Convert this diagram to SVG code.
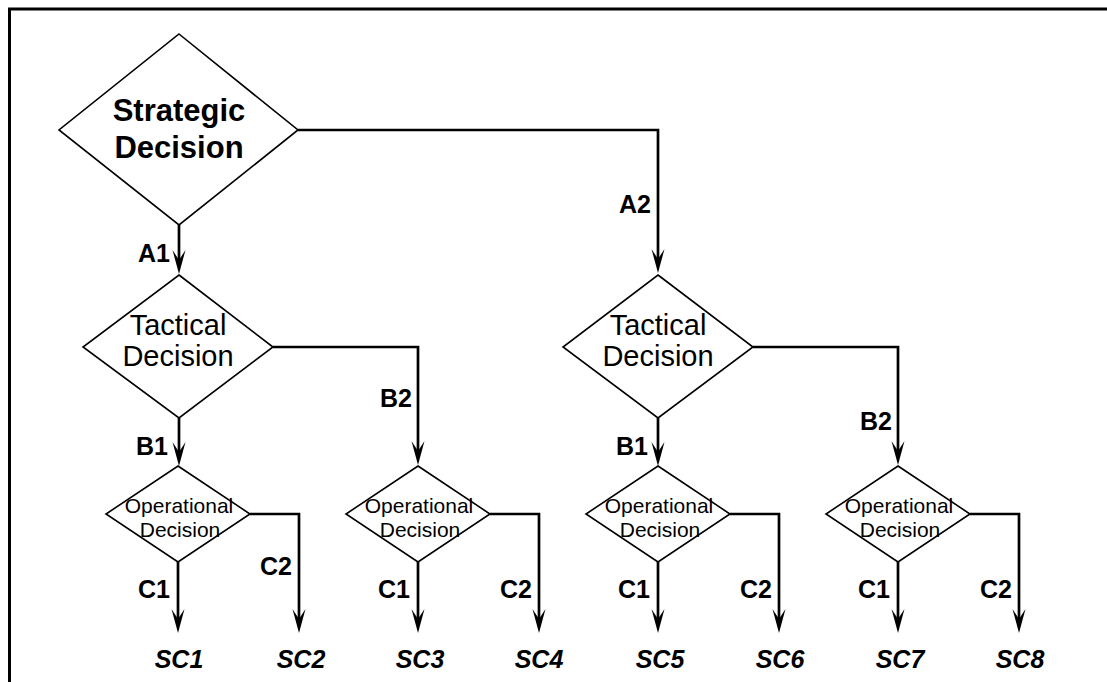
<svg xmlns="http://www.w3.org/2000/svg" width="1107" height="682" viewBox="0 0 1107 682">
<defs>
<style>
.dia{fill:#fff;stroke:#000;stroke-width:1.6;stroke-linejoin:miter}
.con{fill:none;stroke:#000;stroke-width:2.7;marker-end:url(#arr)}
.t{font-family:"Liberation Sans",Arial,sans-serif;fill:#000;text-anchor:middle}
.big{font-size:31px;font-weight:bold}
.mid{font-size:29px}
.small{font-size:21px}
.lab{font-family:"Liberation Sans",Arial,sans-serif;font-size:25px;font-weight:bold;text-anchor:end;fill:#000}
.sc{font-family:"Liberation Sans",Arial,sans-serif;font-size:25px;font-weight:bold;font-style:italic;text-anchor:middle;fill:#000}
</style>
<marker id="arr" markerUnits="userSpaceOnUse" viewBox="-12 -8 28 16" refX="0" refY="0" markerWidth="28" markerHeight="16" orient="auto">
<path d="M14,0 L-10,-6.5 L0,0 L-10,6.5 Z" fill="#000"/>
</marker>
</defs>
<rect width="1107" height="682" fill="#fff"/>
<path d="M9.5,682 V9 H1107" fill="none" stroke="#000" stroke-width="3"/>

<g id="connectors">
<path class="con" d="M298,130 H658 V259"/>
<path class="con" d="M179,225 V260"/>
<path class="con" d="M273,347 H418 V451"/>
<path class="con" d="M179,418 V452"/>
<path class="con" d="M658,418 V452"/>
<path class="con" d="M753,347 H898 V451"/>
<path class="con" d="M178,562 V619"/>
<path class="con" d="M250,514 H299 V619"/>
<path class="con" d="M418,562 V619"/>
<path class="con" d="M490,514 H539 V619"/>
<path class="con" d="M658,562 V619"/>
<path class="con" d="M730,514 H779 V619"/>
<path class="con" d="M898,562 V619"/>
<path class="con" d="M970,514 H1019 V619"/>
<text class="lab" x="170" y="262">A1</text>
<text class="lab" x="651" y="213">A2</text>
<text class="lab" x="168" y="455">B1</text>
<text class="lab" x="412" y="407">B2</text>
<text class="lab" x="648" y="455">B1</text>
<text class="lab" x="892" y="430">B2</text>
<text class="lab" x="170" y="598">C1</text>
<text class="lab" x="292" y="575">C2</text>
<text class="lab" x="410" y="598">C1</text>
<text class="lab" x="532" y="598">C2</text>
<text class="lab" x="650" y="598">C1</text>
<text class="lab" x="772" y="598">C2</text>
<text class="lab" x="890" y="598">C1</text>
<text class="lab" x="1012" y="598">C2</text>
</g>

<g id="strategic">
<polygon class="dia" points="179,34 298,130 179,225 59,130"/>
<text class="t big" x="179" y="121">Strategic</text>
<text class="t big" x="179" y="158">Decision</text>
</g>

<g id="tactical1">
<polygon class="dia" points="179,275 273,347 179,418 83,347"/>
<text class="t mid" x="178" y="335">Tactical</text>
<text class="t mid" x="178" y="366">Decision</text>
</g>
<g id="tactical2">
<polygon class="dia" points="658,275 753,347 658,418 563,347"/>
<text class="t mid" x="658" y="335">Tactical</text>
<text class="t mid" x="658" y="366">Decision</text>
</g>

<g id="operational1">
<polygon class="dia" points="178,466 250,514 178,562 106,514"/>
<text class="t small" x="179" y="513">Operational</text>
<text class="t small" x="180" y="537">Decision</text>
</g>
<g id="operational2">
<polygon class="dia" points="418,466 490,514 418,562 346,514"/>
<text class="t small" x="419" y="513">Operational</text>
<text class="t small" x="420" y="537">Decision</text>
</g>
<g id="operational3">
<polygon class="dia" points="658,466 730,514 658,562 586,514"/>
<text class="t small" x="659" y="513">Operational</text>
<text class="t small" x="660" y="537">Decision</text>
</g>
<g id="operational4">
<polygon class="dia" points="898,466 970,514 898,562 826,514"/>
<text class="t small" x="899" y="513">Operational</text>
<text class="t small" x="900" y="537">Decision</text>
</g>

<g id="outcomes">
<text class="sc" x="179" y="668">SC1</text>
<text class="sc" x="301" y="668">SC2</text>
<text class="sc" x="420" y="668">SC3</text>
<text class="sc" x="539" y="668">SC4</text>
<text class="sc" x="660" y="668">SC5</text>
<text class="sc" x="780" y="668">SC6</text>
<text class="sc" x="900" y="668">SC7</text>
<text class="sc" x="1020" y="668">SC8</text>
</g>
</svg>
